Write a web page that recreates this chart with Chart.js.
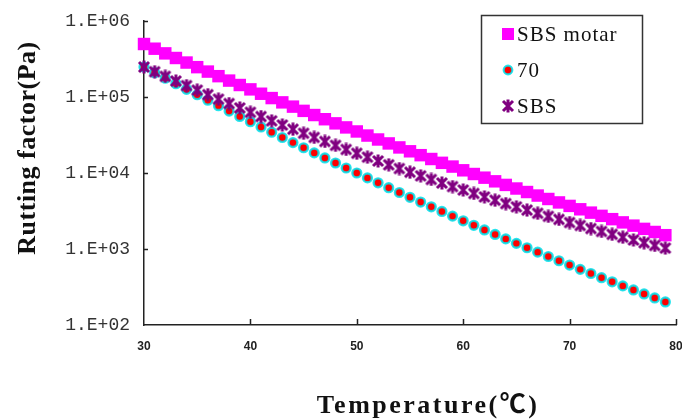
<!DOCTYPE html>
<html>
<head>
<meta charset="utf-8">
<script src="https://cdn.jsdelivr.net/npm/chart.js@4"></script>
<style>
  html, body { margin: 0; padding: 0; background: #fff; }
  #wrap { width: 682px; height: 419px; }
</style>
</head>
<body>
<div id="wrap"><canvas id="rutChart" width="682" height="419"></canvas></div>
<script>
// temperature (°C)
const temps = [30, 31, 32, 33, 34, 35, 36, 37, 38, 39, 40, 41, 42, 43, 44, 45, 46, 47, 48, 49,
  50, 51, 52, 53, 54, 55, 56, 57, 58, 59, 60, 61, 62, 63, 64, 65, 66, 67, 68, 69,
  70, 71, 72, 73, 74, 75, 76, 77, 78, 79];

// rutting factor (Pa)
const sbsMotar = [498000, 432000, 375000, 326000, 284000, 247000, 216000, 188000, 164400, 143800,
  126000, 110400, 96800, 85000, 74700, 65700, 57900, 51000, 45000, 39800,
  35200, 31100, 27600, 24500, 21700, 19300, 17160, 15280, 13610, 12150,
  10850, 9700, 8680, 7770, 6970, 6250, 5620, 5050, 4550, 4100,
  3690, 3330, 3010, 2730, 2470, 2240, 2030, 1840, 1675, 1520];

const base70 = [248000, 209000, 176800, 149300, 126300, 107000, 90600, 76900, 65300, 55500,
  47300, 40300, 34400, 29300, 25100, 21500, 18390, 15770, 13530, 11630,
  10000, 8620, 7430, 6410, 5540, 4790, 4150, 3590, 3120, 2710,
  2350, 2050, 1780, 1555, 1358, 1187, 1038, 909, 797, 700,
  615, 540, 476, 419, 370, 327, 289, 256, 227, 201];

const sbs = [248000, 215000, 187000, 162300, 141200, 123000, 107300, 93700, 82000, 71800,
  63000, 55300, 48600, 42800, 37700, 33300, 29400, 26000, 23100, 20400,
  18160, 16160, 14390, 12830, 11460, 10240, 9170, 8220, 7380, 6630,
  5970, 5380, 4850, 4380, 3960, 3590, 3250, 2950, 2690, 2450,
  2230, 2040, 1860, 1700, 1560, 1430, 1315, 1210, 1113, 1027];

const yTicks = [100, 1000, 10000, 100000, 1000000];
const xTicks = [30, 40, 50, 60, 70, 80];

// asterisk marker for the SBS series
function starMarker(size, color) {
  const c = document.createElement('canvas');
  c.width = size; c.height = size;
  const g = c.getContext('2d');
  g.strokeStyle = color;
  g.lineWidth = 3;
  const m = 2, e = size - 2, h = size / 2;
  g.beginPath();
  g.moveTo(m, m); g.lineTo(e, e);
  g.moveTo(e, m); g.lineTo(m, e);
  g.moveTo(h, 0.5); g.lineTo(h, size - 0.5);
  g.stroke();
  return c;
}
const star = starMarker(14, '#800080');

const pts = arr => temps.map((t, i) => ({ x: t, y: arr[i] }));

const inwardTicks = {
  id: 'inwardTicks',
  afterDraw(chart) {
    const ctx = chart.ctx;
    const xs = chart.scales.x, ys = chart.scales.y;
    const a = chart.chartArea;
    ctx.save();
    ctx.strokeStyle = '#222';
    ctx.lineWidth = 1.5;
    ctx.beginPath();
    yTicks.slice(1).forEach(v => {
      const y = Math.round(ys.getPixelForValue(v)) + 0.5;
      ctx.moveTo(a.left, y); ctx.lineTo(a.left + 4, y);
    });
    xTicks.slice(1).forEach(v => {
      const x = Math.round(xs.getPixelForValue(v)) + 0.5;
      ctx.moveTo(x, a.bottom); ctx.lineTo(x, a.bottom - 6);
    });
    ctx.stroke();
    ctx.restore();
  }
};

const titlesAndLegend = {
  id: 'titlesAndLegend',
  afterDraw(chart) {
    const ctx = chart.ctx;
    ctx.save();
    ctx.fillStyle = '#111';
    ctx.font = 'bold 26px "Liberation Serif", "Noto Sans CJK SC", serif';
    ctx.textAlign = 'center';
    ctx.textBaseline = 'middle';
    ctx.save();
    ctx.letterSpacing = '0.5px';
    ctx.translate(28, 148);
    ctx.rotate(-Math.PI / 2);
    ctx.fillText('Rutting factor(Pa)', 0, 0);
    ctx.restore();
    ctx.letterSpacing = '2.5px';
    ctx.fillText('Temperature(\u2103)', 428, 406);
    ctx.letterSpacing = '0px';

    // legend box
    ctx.strokeStyle = '#333';
    ctx.lineWidth = 1.5;
    ctx.strokeRect(481.5, 15.5, 161, 108);
    const items = [
      { text: 'SBS motar', y: 34, style: 'rect', r: 8.5, fill: '#ff00ff', stroke: '#ff00ff', bw: 0 },
      { text: '70', y: 70, style: 'circle', r: 4.3, fill: '#ff0000', stroke: 'rgba(0,225,235,0.85)', bw: 2.2 },
      { text: 'SBS', y: 106, style: star, r: 6, fill: '#800080', stroke: '#800080', bw: 0 }
    ];
    ctx.font = '21px "Liberation Serif", serif';
    ctx.textAlign = 'left';
    items.forEach(it => {
      ctx.fillStyle = it.fill;
      ctx.strokeStyle = it.stroke;
      ctx.lineWidth = it.bw;
      Chart.helpers.drawPoint(ctx, { pointStyle: it.style, radius: it.r, rotation: 0, borderWidth: it.bw }, 508, it.y);
      ctx.fillStyle = '#111';
      ctx.letterSpacing = '1px';
      ctx.fillText(it.text, 517, it.y + 1);
    });
    ctx.restore();
  }
};

new Chart(document.getElementById('rutChart').getContext('2d'), {
  type: 'scatter',
  data: {
    datasets: [
      {
        label: 'SBS motar',
        data: pts(sbsMotar),
        pointStyle: 'rect',
        pointRadius: 8.8,
        backgroundColor: '#ff00ff',
        borderColor: '#ff00ff',
        borderWidth: 0,
        order: 1
      },
      {
        label: '70',
        data: pts(base70),
        pointStyle: 'circle',
        pointRadius: 4.4,
        backgroundColor: '#ff0000',
        borderColor: 'rgba(0,225,235,0.85)',
        borderWidth: 2.4,
        order: 2
      },
      {
        label: 'SBS',
        data: pts(sbs),
        pointStyle: star,
        pointRadius: 7,
        backgroundColor: '#800080',
        borderColor: '#800080',
        order: 0
      }
    ]
  },
  options: {
    responsive: false,
    animation: false,
    clip: false,
    layout: { autoPadding: false, padding: { top: 21, right: 6, left: 0, bottom: 0 } },
    plugins: {
      legend: { display: false },
      tooltip: { enabled: false }
    },
    scales: {
      x: {
        type: 'linear',
        min: 30,
        max: 80,
        afterBuildTicks: s => { s.ticks = xTicks.map(v => ({ value: v })); },
        afterFit: s => { s.height = 94; s.paddingLeft = 0; s.paddingRight = 0; },
        grid: { display: false, drawTicks: false },
        border: { display: true, color: '#222', width: 1.5 },
        ticks: {
          padding: 14,
          maxRotation: 0,
          color: '#222',
          font: { family: '"Liberation Sans", Arial, sans-serif', size: 12, weight: 'bold' }
        }
      },
      y: {
        type: 'logarithmic',
        min: 100,
        max: 1000000,
        afterBuildTicks: s => { s.ticks = yTicks.map(v => ({ value: v })); },
        afterFit: s => { s.width = 144; s.paddingTop = 0; s.paddingBottom = 0; },
        grid: { display: false, drawTicks: false },
        border: { display: true, color: '#222', width: 1.5 },
        ticks: {
          padding: 14,
          color: '#333',
          font: { family: '"Liberation Mono", "DejaVu Sans Mono", monospace', size: 18 },
          callback: v => '1.E+0' + Math.round(Math.log10(v))
        }
      }
    }
  },
  plugins: [inwardTicks, titlesAndLegend]
});
</script>
</body>
</html>
